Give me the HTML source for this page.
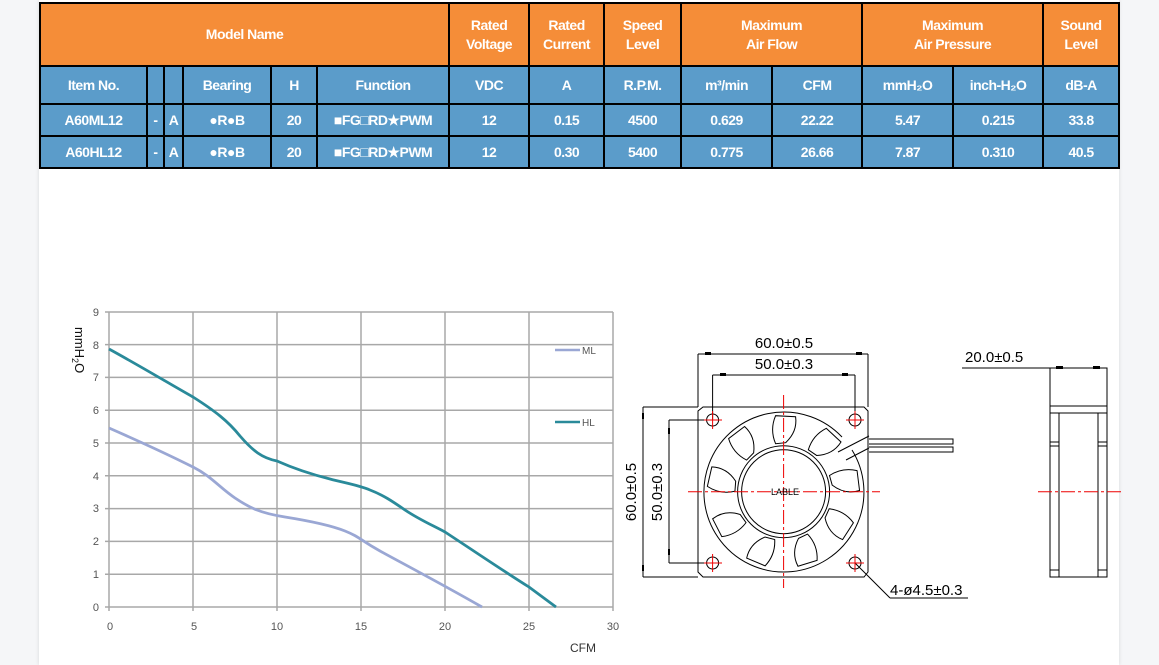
<!DOCTYPE html>
<html><head><meta charset="utf-8"><style>
html,body{margin:0;padding:0;}
body{width:1159px;height:665px;background:#f5f6f8;position:relative;overflow:hidden;font-family:"Liberation Sans",sans-serif;}
#panel{position:absolute;left:39px;top:0;width:1080px;height:665px;background:#fff;box-shadow:0 0 4px rgba(0,0,0,0.12);}
table{position:absolute;left:39px;top:2px;border-collapse:collapse;table-layout:fixed;width:1079px;}
td{border:2px solid #000;color:#fff;font-weight:bold;text-align:center;font-size:14px;padding:0;letter-spacing:-0.5px;line-height:19px;box-sizing:border-box;}
tr.h td{background:#f58d38;height:63px;}
tr.s td{background:#5b9cca;height:38px;}
tr.d td{background:#5b9cca;height:32px;}
svg{position:absolute;left:0;top:0;}
</style></head><body>
<div id="panel"></div>
<table>
<colgroup><col style="width:107px"><col style="width:17px"><col style="width:19px"><col style="width:88px"><col style="width:46px"><col style="width:132px"><col style="width:80px"><col style="width:75px"><col style="width:77px"><col style="width:91px"><col style="width:90px"><col style="width:91px"><col style="width:90px"><col style="width:76px"></colgroup>
<tr class="h"><td colspan="6">Model Name</td><td>Rated<br>Voltage</td><td>Rated<br>Current</td><td>Speed<br>Level</td><td colspan="2">Maximum<br>Air Flow</td><td colspan="2">Maximum<br>Air Pressure</td><td>Sound<br>Level</td></tr>
<tr class="s"><td>Item No.</td><td></td><td></td><td>Bearing</td><td>H</td><td>Function</td><td>VDC</td><td>A</td><td>R.P.M.</td><td>m³/min</td><td>CFM</td><td>mmH₂O</td><td>inch-H₂O</td><td>dB-A</td></tr>
<tr class="d"><td>A60ML12</td><td>-</td><td>A</td><td>●R●B</td><td>20</td><td>■FG□RD★PWM</td><td>12</td><td>0.15</td><td>4500</td><td>0.629</td><td>22.22</td><td>5.47</td><td>0.215</td><td>33.8</td></tr>
<tr class="d"><td>A60HL12</td><td>-</td><td>A</td><td>●R●B</td><td>20</td><td>■FG□RD★PWM</td><td>12</td><td>0.30</td><td>5400</td><td>0.775</td><td>26.66</td><td>7.87</td><td>0.310</td><td>40.5</td></tr>
</table>
<svg width="1159" height="665" viewBox="0 0 1159 665" font-family="Liberation Sans, sans-serif">
<g stroke="#a8a8a8" stroke-width="1.5">
<line x1="105" y1="607" x2="613" y2="607"/><line x1="105" y1="574.2" x2="613" y2="574.2"/><line x1="105" y1="541.4" x2="613" y2="541.4"/><line x1="105" y1="508.6" x2="613" y2="508.6"/><line x1="105" y1="475.8" x2="613" y2="475.8"/><line x1="105" y1="443" x2="613" y2="443"/><line x1="105" y1="410.2" x2="613" y2="410.2"/><line x1="105" y1="377.4" x2="613" y2="377.4"/><line x1="105" y1="344.6" x2="613" y2="344.6"/><line x1="105" y1="312" x2="613" y2="312"/>
<line x1="109" y1="312" x2="109" y2="611"/><line x1="193" y1="312" x2="193" y2="611"/><line x1="277" y1="312" x2="277" y2="611"/><line x1="361" y1="312" x2="361" y2="611"/><line x1="445" y1="312" x2="445" y2="611"/><line x1="529" y1="312" x2="529" y2="611"/><line x1="613" y1="312" x2="613" y2="611"/>
</g>
<g font-size="11" fill="#555" text-anchor="end">
<text x="99" y="611">0</text><text x="99" y="578">1</text><text x="99" y="545">2</text><text x="99" y="512">3</text><text x="99" y="480">4</text><text x="99" y="447">5</text><text x="99" y="414">6</text><text x="99" y="381">7</text><text x="99" y="349">8</text><text x="99" y="316">9</text>
</g>
<g font-size="11" fill="#555" text-anchor="middle">
<text x="110" y="630">0</text><text x="194" y="630">5</text><text x="277" y="630">10</text><text x="361" y="630">15</text><text x="445" y="630">20</text><text x="529" y="630">25</text><text x="613" y="630">30</text>
</g>
<text x="583" y="652" font-size="12" fill="#333" text-anchor="middle">CFM</text>
<text transform="translate(75,327) rotate(90)" font-size="13" fill="#111">mmH<tspan font-size="9" dy="3">2</tspan><tspan dy="-3">O</tspan></text>
<path d="M109,428 C150,446 175,458 193,467 S220,488 235,498 S260,513 285,517 S330,525 345,531 S360,540 380,551 S440,583 482,607" fill="none" stroke="#9aa7d4" stroke-width="2.8"/>
<path d="M109,349 C140,366 170,384 193,397 C215,411 228,421 240,436 C253,451 262,458 277,461 C295,469 310,474 330,479 C345,483 358,485 370,490 C383,495 392,501 405,510 C420,520 432,525 445,532 C480,555 505,572 529,587 L556,607" fill="none" stroke="#2a8a9a" stroke-width="2.8"/>
<line x1="555" y1="350" x2="580" y2="350" stroke="#9aa7d4" stroke-width="2.5"/><text x="582" y="354" font-size="10" fill="#555">ML</text>
<line x1="555" y1="422" x2="580" y2="422" stroke="#2a8a9a" stroke-width="2.5"/><text x="582" y="426" font-size="10" fill="#555">HL</text>
<g stroke="#000" stroke-width="1" fill="none">
<path d="M703,407 H864 L868,411 V572 L864,577 H703 L698,572 V411 Z"/>
<line x1="698" y1="354" x2="698" y2="407"/><line x1="868" y1="354" x2="868" y2="407"/>
<line x1="698" y1="354" x2="868" y2="354"/>
<line x1="712.6" y1="375" x2="712.6" y2="420"/><line x1="855" y1="375" x2="855" y2="420"/>
<line x1="712.6" y1="375" x2="855" y2="375"/>
<line x1="643" y1="407" x2="698" y2="407"/><line x1="643" y1="577" x2="698" y2="577"/>
<line x1="643" y1="407" x2="643" y2="577"/>
<line x1="669" y1="420" x2="712" y2="420"/><line x1="669" y1="563" x2="712" y2="563"/>
<line x1="669" y1="420" x2="669" y2="563"/>
<circle cx="712.6" cy="420" r="6"/><circle cx="855" cy="420" r="6"/><circle cx="712.6" cy="563" r="6"/><circle cx="855" cy="563" r="6"/>
<circle cx="783.6" cy="491.7" r="42"/><circle cx="783.6" cy="491.7" r="46"/>
<path d="M842,437 A80,80 0 1 0 852,450"/>
<g transform="translate(783.6,491.7)">
<path id="bl" d="M2,-49 Q14,-60 12,-75 L-8,-76 Q-14,-62 -8,-48 Z"/>
<use href="#bl" transform="rotate(40)"/><use href="#bl" transform="rotate(80)"/><use href="#bl" transform="rotate(120)"/><use href="#bl" transform="rotate(160)"/><use href="#bl" transform="rotate(200)"/><use href="#bl" transform="rotate(240)"/><use href="#bl" transform="rotate(280)"/><use href="#bl" transform="rotate(320)"/>
</g>
<path d="M869,439 H953 V444 H869"/><path d="M869,447 H953 V452 H869"/>
<path d="M838,452 L869,436"/><path d="M846,460 L869,448"/>
<line x1="855" y1="563" x2="890" y2="598"/><line x1="890" y1="598" x2="968" y2="598"/>
<rect x="1050" y="368" width="57" height="209"/>
<line x1="1050" y1="406" x2="1107" y2="406"/><line x1="1050" y1="413" x2="1107" y2="413"/>
<line x1="1059" y1="413" x2="1059" y2="577"/><line x1="1098" y1="413" x2="1098" y2="577"/>
<line x1="1050" y1="442" x2="1059" y2="442"/><line x1="1050" y1="446" x2="1059" y2="446"/>
<line x1="1098" y1="442" x2="1107" y2="442"/><line x1="1098" y1="446" x2="1107" y2="446"/>
<line x1="1050" y1="570" x2="1059" y2="570"/><line x1="1098" y1="570" x2="1107" y2="570"/>
<line x1="962" y1="368" x2="1050" y2="368"/>
</g>
<g fill="#000">
<rect x="705" y="352" width="6" height="3"/><rect x="856" y="352" width="6" height="3"/>
<rect x="720" y="373" width="6" height="3"/><rect x="842" y="373" width="6" height="3"/>
<rect x="642" y="413" width="2" height="6"/><rect x="642" y="565" width="2" height="6"/>
<rect x="668" y="428" width="2" height="6"/><rect x="668" y="549" width="2" height="6"/>
<rect x="1056" y="366" width="7" height="3"/><rect x="1093" y="366" width="7" height="3"/>
</g>
<g stroke="#e00" stroke-width="1" stroke-dasharray="14,3,3,3" fill="none">
<line x1="688" y1="491.7" x2="880" y2="491.7"/><line x1="783.6" y1="395" x2="783.6" y2="588"/>
<line x1="1038" y1="491.7" x2="1121" y2="491.7"/>
</g>
<g stroke="#e00" stroke-width="1">
<line x1="704" y1="420" x2="722" y2="420"/><line x1="712.6" y1="411" x2="712.6" y2="429"/>
<line x1="846" y1="420" x2="864" y2="420"/><line x1="855" y1="411" x2="855" y2="429"/>
<line x1="704" y1="563" x2="722" y2="563"/><line x1="712.6" y1="554" x2="712.6" y2="572"/>
<line x1="846" y1="563" x2="864" y2="563"/><line x1="855" y1="554" x2="855" y2="572"/>
</g>
<g font-size="15" fill="#000">
<text x="784" y="348" text-anchor="middle">60.0±0.5</text>
<text x="784" y="369" text-anchor="middle">50.0±0.3</text>
<text x="965" y="362">20.0±0.5</text>
<text x="890" y="595">4-ø4.5±0.3</text>
<text transform="translate(636,492) rotate(-90)" text-anchor="middle">60.0±0.5</text>
<text transform="translate(662,492) rotate(-90)" text-anchor="middle">50.0±0.3</text>
</g>
<text x="785" y="495" font-size="9" fill="#000" text-anchor="middle">LABLE</text>
</svg>
</body></html>
